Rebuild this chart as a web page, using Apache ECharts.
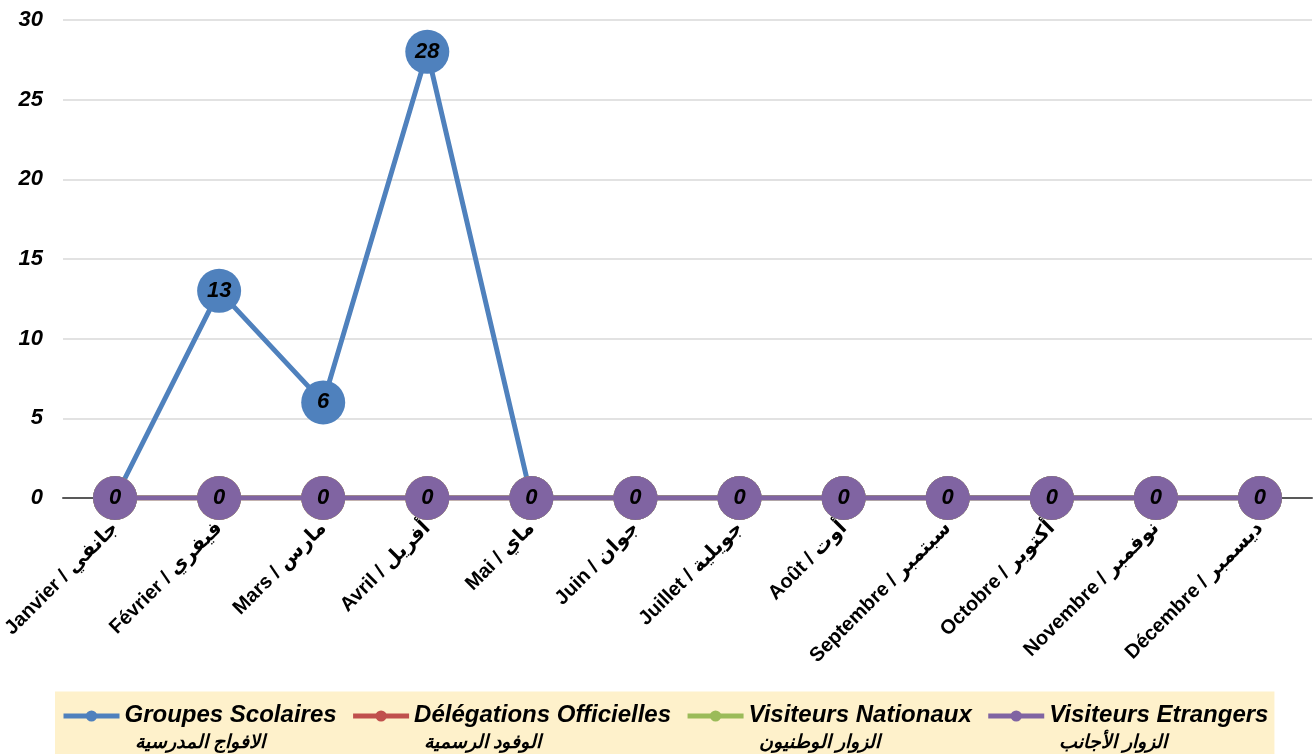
<!DOCTYPE html>
<html>
<head>
<meta charset="utf-8">
<script src="https://cdn.jsdelivr.net/npm/echarts@6/dist/echarts.min.js"></script>
<style>
  html, body { margin: 0; padding: 0; background: #fff; }
  #chart { width: 1315px; height: 754px; }
</style>
</head>
<body>
<div id="chart"></div>
<script>
const months = [
  'Janvier / جانفي', 'Février / فيفري', 'Mars / مارس', 'Avril / أفريل',
  'Mai / ماي', 'Juin / جوان', 'Juillet / جويلية', 'Août / أوت',
  'Septembre / سبتمبر', 'Octobre / أكتوبر', 'Novembre / نوفمبر', 'Décembre / ديسمبر'
];
const seriesNames = ['Groupes Scolaires', 'Délégations Officielles', 'Visiteurs Nationaux', 'Visiteurs Etrangers'];
const seriesNamesAr = ['الافواج المدرسية', 'الوفود الرسمية', 'الزوار الوطنيون', 'الزوار الأجانب'];
const seriesColors = ['#4F81BD', '#C0504D', '#9BBB59', '#8064A2'];
const groupesScolaires = [0, 13, 6, 28, 0, 0, 0, 0, 0, 0, 0, 0];
const delegationsOfficielles = [0, 0, 0, 0, 0, 0, 0, 0, 0, 0, 0, 0];
const visiteursNationaux = [0, 0, 0, 0, 0, 0, 0, 0, 0, 0, 0, 0];
const visiteursEtrangers = [0, 0, 0, 0, 0, 0, 0, 0, 0, 0, 0, 0];
const yTicks = { min: 0, max: 30, interval: 5 };

const FONT = '"Liberation Sans", Arial, "DejaVu Sans", sans-serif';
const chart = echarts.init(document.getElementById('chart'));

const allData = [groupesScolaires, delegationsOfficielles, visiteursNationaux, visiteursEtrangers];

const series = allData.map((d, i) => ({
  name: seriesNames[i],
  type: 'line',
  data: d,
  symbol: 'circle',
  symbolSize: 44,
  color: seriesColors[i],
  lineStyle: { width: 5, color: seriesColors[i] },
  itemStyle: { color: seriesColors[i] },
  z: 2 + i,
  label: {
    show: i === 0 || i === 3,
    position: 'inside',
    color: '#000',
    fontFamily: FONT,
    fontSize: 22,
    fontWeight: 'bold',
    fontStyle: 'italic',
    // blue zeros sit under the purple markers
    formatter: p => (i === 0 && p.value === 0) ? '' : String(p.value),
  },
  emphasis: { disabled: true },
  animation: false,
}));

const option = {
  animation: false,
  grid: { left: 63, right: 3, top: 20, bottom: 256, containLabel: false, outerBoundsMode: 'none' },
  xAxis: {
    type: 'category',
    data: months,
    boundaryGap: true,
    axisLine: { lineStyle: { color: '#595959', width: 2 } },
    axisTick: { show: false },
    axisLabel: {
      rotate: 45,
      margin: 27,
      interval: 0,
      color: '#000',
      fontFamily: FONT,
      fontSize: 20,
      fontWeight: 'bold',
    },
  },
  yAxis: {
    type: 'value',
    min: yTicks.min,
    max: yTicks.max,
    interval: yTicks.interval,
    axisLine: { show: false },
    axisTick: { show: false },
    splitLine: { lineStyle: { color: '#D9D9D9', width: 1.5 } },
    axisLabel: {
      margin: 20,
      color: '#000',
      fontFamily: FONT,
      fontSize: 22,
      fontWeight: 'bold',
      fontStyle: 'italic',
    },
  },
  legend: {
    data: seriesNames,
    left: 55,
    bottom: 0,
    width: 1250,
    backgroundColor: '#FEF1CB',
    padding: [12, 6, 2, 6],
    itemGap: 14,
    itemWidth: 56,
    itemHeight: 14,
    lineStyle: { width: 5 },
    formatter: name => {
      const k = seriesNames.indexOf(name);
      return '{fr|' + name + '}\n{ar|' + seriesNamesAr[k] + '}';
    },
    textStyle: {
      padding: [26, 0, 0, 0],
      rich: {
        fr: { fontFamily: FONT, fontSize: 24, fontWeight: 'bold', fontStyle: 'italic', color: '#000', lineHeight: 27 },
        ar: { fontFamily: FONT, fontSize: 19, fontWeight: 'bold', fontStyle: 'italic', color: '#000', lineHeight: 27, padding: [0, 0, 0, 10] },
      },
    },
  },
  series: series,
};

chart.setOption(option);
</script>
</body>
</html>
